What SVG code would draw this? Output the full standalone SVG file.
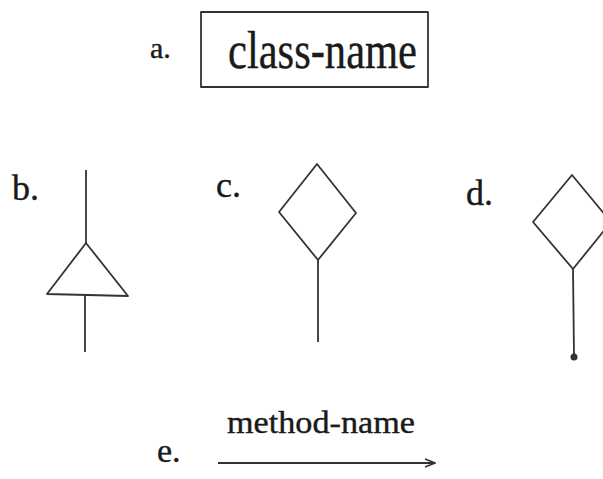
<svg xmlns="http://www.w3.org/2000/svg" width="603" height="479" viewBox="0 0 603 479">
<style>
text{font-family:"Liberation Serif","Times New Roman",serif;fill:#1a1a1a;stroke:#1a1a1a;stroke-width:0.4}
.s{fill:none;stroke:#333;stroke-width:1.8;stroke-linejoin:round}
</style>
<defs>
<marker id="arr" markerWidth="12" markerHeight="10" refX="11" refY="5" orient="auto" markerUnits="userSpaceOnUse">
<path d="M1,1 L11,5 L1,9" fill="none" stroke="#333" stroke-width="1.5"/>
</marker>
</defs>
<rect width="603" height="479" fill="#fff"/>
<g id="a">
<text x="150" y="58" font-size="30">a.</text>
<rect class="s" x="201" y="12" width="227" height="75" stroke-width="1.3"/>
<text x="228" y="68" font-size="52" textLength="189" lengthAdjust="spacingAndGlyphs">class-name</text>
</g>
<g id="b">
<text x="12" y="200" font-size="36">b.</text>
<polygon class="s" points="86,243 47,294 128,296"/>
</g>
<g id="c">
<text x="216" y="197" font-size="36">c.</text>
<polygon class="s" points="317,164 356,213 318,260 279,212"/>
</g>
<g id="d">
<text x="466" y="205" font-size="36">d.</text>
<polygon class="s" points="572,175 611,222 573,269 533,222"/>
<circle cx="574" cy="357" r="3.5" fill="#333"/>
</g>
<g id="e">
<text x="157" y="462" font-size="34">e.</text>
<text x="227" y="433" font-size="32" textLength="188" lengthAdjust="spacingAndGlyphs">method-name</text>
</g>
<g id="connectors">
<line class="s" x1="86" y1="170" x2="86" y2="243"/>
<line class="s" x1="85" y1="295" x2="85" y2="352"/>
<line class="s" x1="318" y1="260" x2="318" y2="342"/>
<line class="s" x1="573" y1="269" x2="574" y2="356"/>
<line class="s" x1="218" y1="463" x2="435" y2="463" marker-end="url(#arr)"/>
</g>
</svg>
